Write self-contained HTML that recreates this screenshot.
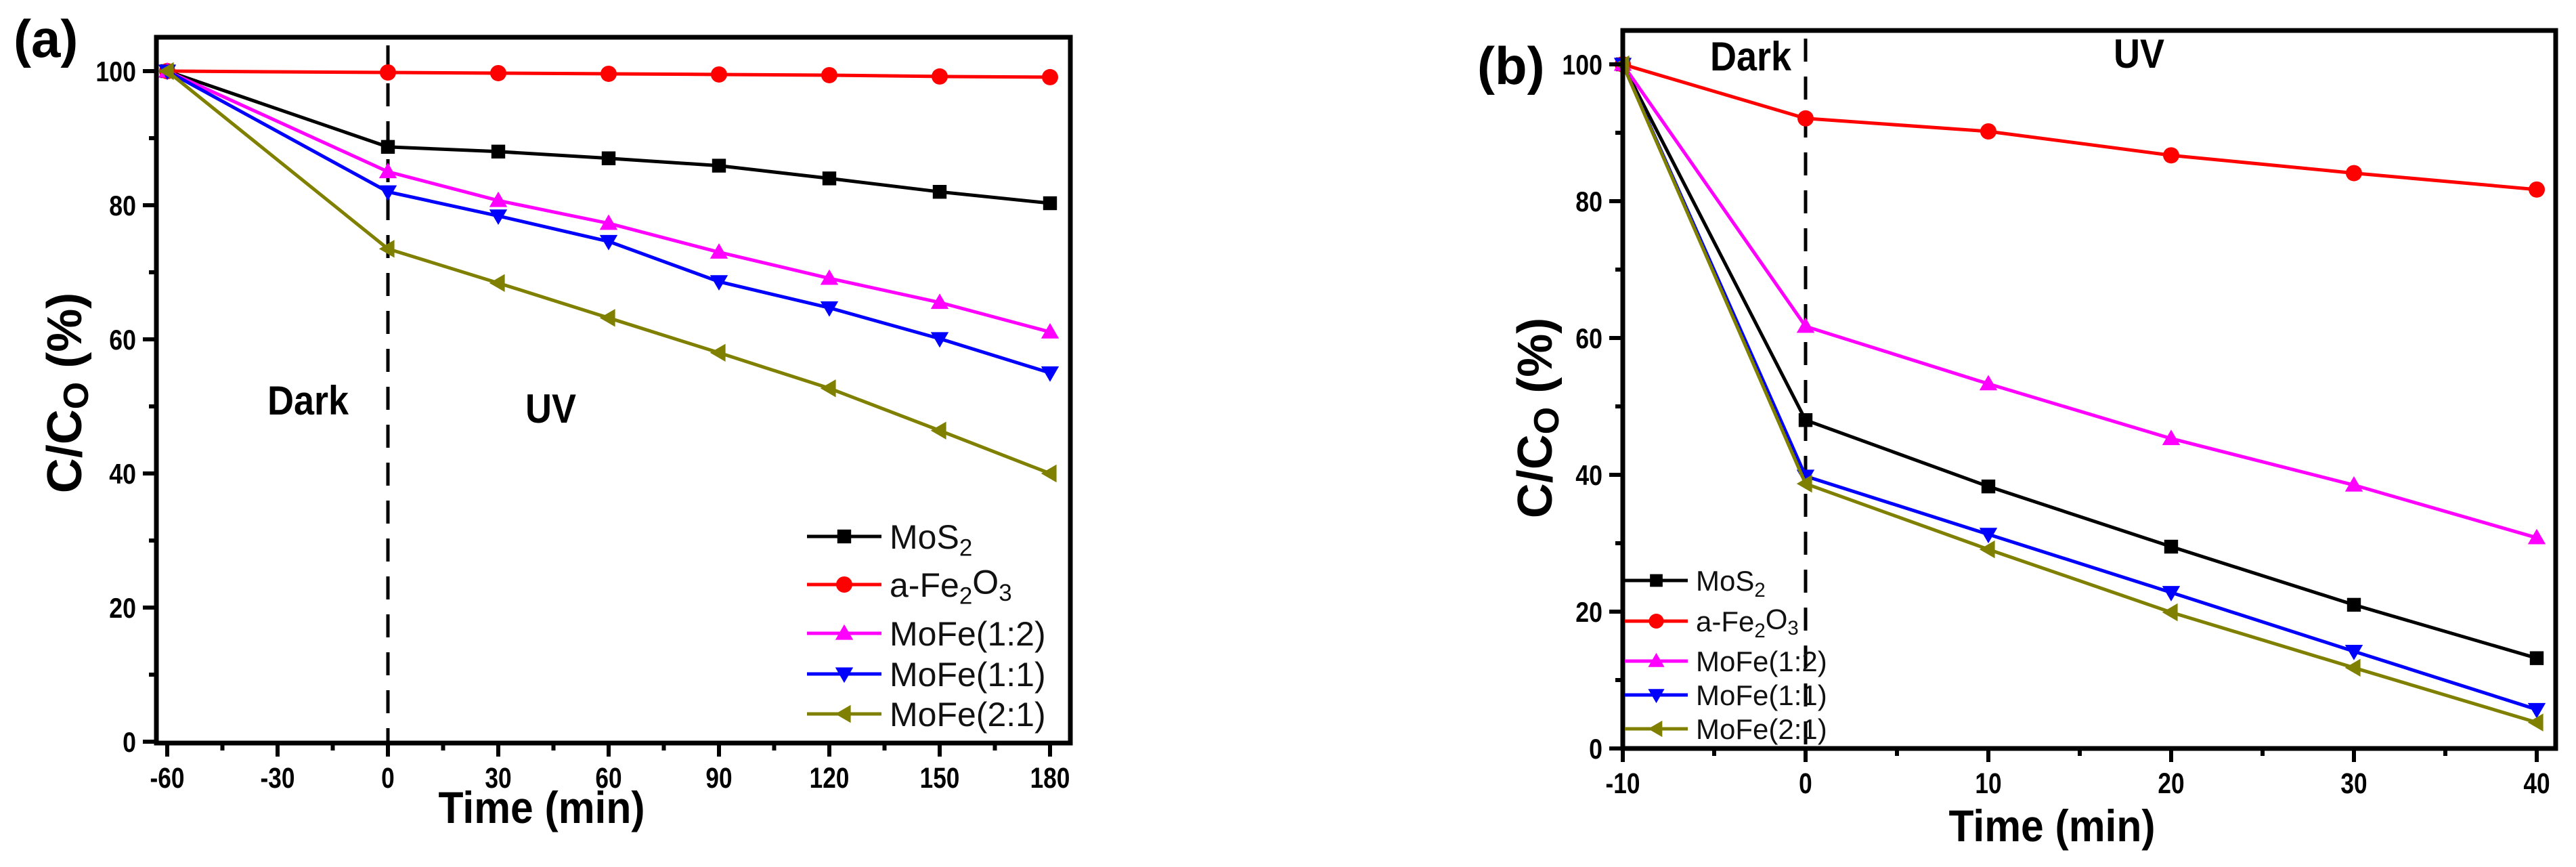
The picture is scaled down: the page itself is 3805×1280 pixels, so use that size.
<!DOCTYPE html>
<html><head><meta charset="utf-8">
<style>
html,body{margin:0;padding:0;background:#fff;}
svg{display:block;font-family:"Liberation Sans",Arial,sans-serif;}
</style></head>
<body>
<svg id="chart" width="3805" height="1280" viewBox="0 0 3805 1280" xmlns="http://www.w3.org/2000/svg">
<rect x="0" y="0" width="3805" height="1280" fill="#fff"/>
</svg>
<script>
// ---- Panel (a) data ----
const aTimes = [-60, 0, 30, 60, 90, 120, 150, 180];
const aMoS2 = [100, 88.7, 88, 87, 85.9, 84, 82, 80.3];
const aFe2O3 = [100, 99.8, 99.7, 99.6, 99.5, 99.4, 99.2, 99.1];
const aMoFe12 = [100, 85, 80.7, 77.3, 73, 69.1, 65.5, 61.1];
const aMoFe11 = [100, 82, 78.4, 74.6, 68.6, 64.7, 60.1, 55];
const aMoFe21 = [100, 73.5, 68.4, 63.2, 58, 52.7, 46.4, 40];
const aXTicks = [-60, -30, 0, 30, 60, 90, 120, 150, 180];
const aYTicks = [0, 20, 40, 60, 80, 100];
// ---- Panel (b) data ----
const bTimes = [-10, 0, 10, 20, 30, 40];
const bMoS2 = [100, 48, 38.3, 29.5, 21, 13.2];
const bFe2O3 = [100, 92.1, 90.2, 86.7, 84.1, 81.7];
const bMoFe12 = [100, 61.7, 53.3, 45.3, 38.5, 30.8];
const bMoFe11 = [100, 39.8, 31.3, 22.8, 14.2, 5.7];
const bMoFe21 = [100, 38.7, 29.1, 19.9, 11.8, 3.8];
const bXTicks = [-10, 0, 10, 20, 30, 40];
const bYTicks = [0, 20, 40, 60, 80, 100];
const seriesNames = ['mos2', 'fe2o3', 'mofe-1-2', 'mofe-1-1', 'mofe-2-1'];

const NS = 'http://www.w3.org/2000/svg';
const svg = document.getElementById('chart');
const colors = ['#000000', '#ff0000', '#ff00ff', '#0000ff', '#808000'];
const markers = ['square', 'circle', 'up', 'down', 'left'];

function mk(tag, attrs, parent) {
  const e = document.createElementNS(NS, tag);
  for (const k in attrs) e.setAttribute(k, attrs[k]);
  (parent || svg).appendChild(e);
  return e;
}
function marker(g, type, cx, cy, r, color) {
  let e;
  if (type === 'square') e = mk('rect', {x: cx - r * 0.85, y: cy - r * 0.85, width: r * 1.7, height: r * 1.7, fill: color}, g);
  else if (type === 'circle') e = mk('circle', {cx: cx, cy: cy, r: r, fill: color}, g);
  else if (type === 'up') e = mk('polygon', {points: `${cx},${cy - r * 1.1} ${cx - r * 1.1},${cy + r * 0.8} ${cx + r * 1.1},${cy + r * 0.8}`, fill: color}, g);
  else if (type === 'down') e = mk('polygon', {points: `${cx},${cy + r * 1.1} ${cx - r * 1.1},${cy - r * 0.8} ${cx + r * 1.1},${cy - r * 0.8}`, fill: color}, g);
  else e = mk('polygon', {points: `${cx - r * 1.1},${cy} ${cx + r * 0.8},${cy - r * 1.1} ${cx + r * 0.8},${cy + r * 1.1}`, fill: color}, g);
  return e;
}

function panel(cfg) {
  const g = mk('g', {});
  
  
  const X = v => cfg.x0px + (v - cfg.xmin) * (cfg.x1px - cfg.x0px) / (cfg.xmax - cfg.xmin);
  const Y = v => cfg.y0px - v * (cfg.y0px - cfg.y100px) / 100;
  const dl = mk('line', {x1: X(0), x2: X(0), y1: cfg.top + 12, y2: cfg.bottom, stroke: '#000', 'stroke-width': 5, 'stroke-dasharray': '34,22'}, g);
  
  
  cfg.series.forEach((vals, si) => {
    const sg = mk('g', {}, g);
    
    
    const pts = vals.map((v, i) => X(cfg.times[i]) + ',' + Y(v)).join(' ');
    mk('polyline', {points: pts, fill: 'none', stroke: colors[si], 'stroke-width': 5}, sg);
    vals.forEach((v, i) => {
      const m = marker(sg, markers[si], X(cfg.times[i]), Y(v), 12, colors[si]);
      
      
    });
  });
  const fr = mk('rect', {x: cfg.left, y: cfg.top, width: cfg.right - cfg.left, height: cfg.bottom - cfg.top, fill: 'none', stroke: '#000', 'stroke-width': 7}, g);
  
  
  cfg.xticks.forEach((t, i) => {
    mk('line', {x1: X(t), x2: X(t), y1: cfg.bottom, y2: cfg.bottom + 20, stroke: '#000', 'stroke-width': 6}, g);
    if (i < cfg.xticks.length - 1) {
      const mid = (t + cfg.xticks[i + 1]) / 2;
      mk('line', {x1: X(mid), x2: X(mid), y1: cfg.bottom, y2: cfg.bottom + 11, stroke: '#000', 'stroke-width': 6}, g);
    }
    const tx = mk('text', {x: X(t), y: cfg.bottom + 66, 'text-anchor': 'middle', 'font-size': 43, 'font-weight': 'bold', fill: '#000', transform: `translate(${X(t)},0) scale(0.82,1) translate(${-X(t)},0)`}, g);
    tx.textContent = t;
    
    
  });
  cfg.yticks.forEach((t, i) => {
    mk('line', {x1: cfg.left - 20, x2: cfg.left, y1: Y(t), y2: Y(t), stroke: '#000', 'stroke-width': 6}, g);
    if (i < cfg.yticks.length - 1) {
      const mid = (t + cfg.yticks[i + 1]) / 2;
      mk('line', {x1: cfg.left - 11, x2: cfg.left, y1: Y(mid), y2: Y(mid), stroke: '#000', 'stroke-width': 6}, g);
    }
    const ty = mk('text', {x: cfg.left - 30, y: Y(t) + 15, 'text-anchor': 'end', 'font-size': 42, 'font-weight': 'bold', fill: '#000', transform: `translate(${cfg.left - 30},0) scale(0.85,1) translate(${-(cfg.left - 30)},0)`}, g);
    ty.textContent = t;
    
    
  });
  const xt = mk('text', {x: cfg.xTitleX, y: cfg.xTitleY, 'text-anchor': 'middle', 'font-size': 66, 'font-weight': 'bold', fill: '#000', textLength: 305, lengthAdjust: 'spacingAndGlyphs'}, g);
  xt.textContent = 'Time (min)';
  
  
  const yt = mk('text', {x: 0, y: 0, 'text-anchor': 'middle', 'font-size': 72, 'font-weight': 'bold', fill: '#000', transform: `translate(${cfg.yTitleX},${cfg.yTitleY}) rotate(-90)`}, g);
  yt.innerHTML = 'C/C<tspan font-size="52" dy="10">O</tspan><tspan dy="-10"> (%)</tspan>';
  
  
  const pl = mk('text', {x: cfg.labelX, y: cfg.labelY, 'font-size': 78, 'font-weight': 'bold', fill: '#000'}, g);
  pl.textContent = cfg.label;
  
  
  const dk = mk('text', {x: cfg.darkX, y: cfg.darkY, 'font-size': 60, 'font-weight': 'bold', fill: '#000', transform: `translate(${cfg.darkX},0) scale(0.9,1) translate(${-cfg.darkX},0)`}, g);
  dk.textContent = 'Dark';
  
  
  const uv = mk('text', {x: cfg.uvX, y: cfg.uvY, 'font-size': 60, 'font-weight': 'bold', fill: '#000', transform: `translate(${cfg.uvX},0) scale(0.9,1) translate(${-cfg.uvX},0)`}, g);
  uv.textContent = 'UV';
  
  
  const lg = mk('g', {}, g);
  
  
  const labels = ['MoS<tspan font-size="0.7em" dy="0.3em">2</tspan>',
    'a-Fe<tspan font-size="0.7em" dy="0.3em">2</tspan><tspan dy="-0.3em">O</tspan><tspan font-size="0.7em" dy="0.3em">3</tspan>',
    'MoFe(1:2)', 'MoFe(1:1)', 'MoFe(2:1)'];
  cfg.legY.forEach((ly, i) => {
    const eg = mk('g', {}, lg);
    
    
    mk('line', {x1: cfg.legX0, x2: cfg.legX1, y1: ly, y2: ly, stroke: colors[i], 'stroke-width': 5}, eg);
    marker(eg, markers[i], (cfg.legX0 + cfg.legX1) / 2, ly, cfg.legR, colors[i]);
    const t = mk('text', {x: cfg.legX1 + 12, y: ly + cfg.legFs * 0.36, 'font-size': cfg.legFs, fill: '#111'}, eg);
    t.innerHTML = labels[i];
  });
}

panel({name: 'panel-a', times: aTimes, series: [aMoS2, aFe2O3, aMoFe12, aMoFe11, aMoFe21],
  xticks: aXTicks, yticks: aYTicks, xmin: -60, xmax: 180, x0px: 247, x1px: 1551, y0px: 1095, y100px: 105,
  left: 231, right: 1581, top: 55, bottom: 1097,
  xTitleX: 800, xTitleY: 1215, yTitleX: 120, yTitleY: 580, label: '(a)', labelX: 20, labelY: 84,
  darkX: 395, darkY: 612, uvX: 776, uvY: 624,
  legY: [792, 863, 935, 995, 1054], legX0: 1192, legX1: 1302, legR: 12, legFs: 50});

panel({name: 'panel-b', times: bTimes, series: [bMoS2, bFe2O3, bMoFe12, bMoFe11, bMoFe21],
  xticks: bXTicks, yticks: bYTicks, xmin: -10, xmax: 40, x0px: 2397, x1px: 3747, y0px: 1105, y100px: 95,
  left: 2397, right: 3775, top: 45, bottom: 1105,
  xTitleX: 3031, xTitleY: 1242, yTitleX: 2292, yTitleY: 617, label: '(b)', labelX: 2182, labelY: 124,
  darkX: 2526, darkY: 104, uvX: 3122, uvY: 100,
  legY: [857, 917, 976, 1026, 1076], legX0: 2400, legX1: 2493, legR: 11, legFs: 42});
</script>
</body></html>
